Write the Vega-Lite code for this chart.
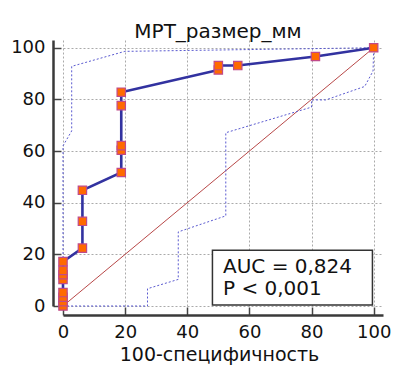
{
  "$schema": "https://vega.github.io/schema/vega-lite/v6.json",
  "width": 320,
  "height": 266,
  "autosize": "none",
  "padding": {"left": 63, "top": 40, "right": 10, "bottom": 61},
  "background": "white",
  "config": {
    "font": "DejaVu Sans",
    "view": {"stroke": null},
    "axis": {"labelFont": "DejaVu Sans", "titleFont": "DejaVu Sans"}
  },
  "title": {
    "text": "МРТ_размер_мм",
    "font": "DejaVu Sans",
    "fontSize": 20,
    "fontWeight": "normal",
    "color": "#111",
    "anchor": "middle",
    "baseline": "alphabetic",
    "offset": 10,
    "dx": -5,
    "dy": 29
  },
  "datasets": {
    "roc": [
      {"x": 0, "y": 0}, {"x": 0, "y": 1.7}, {"x": 0, "y": 3.4}, {"x": 0, "y": 5.2},
      {"x": 0, "y": 10.3}, {"x": 0, "y": 12.1}, {"x": 0, "y": 13.8}, {"x": 0, "y": 17.2},
      {"x": 6.25, "y": 22.4}, {"x": 6.25, "y": 32.8}, {"x": 6.25, "y": 44.8},
      {"x": 18.75, "y": 51.7}, {"x": 18.75, "y": 60.3}, {"x": 18.75, "y": 62.1},
      {"x": 18.75, "y": 77.6}, {"x": 18.75, "y": 82.8},
      {"x": 50, "y": 91.4}, {"x": 50, "y": 93.1}, {"x": 56.25, "y": 93.1},
      {"x": 81.25, "y": 96.6}, {"x": 100, "y": 100}
    ],
    "upper": [
      {"x": 0, "y": 0}, {"x": 0, "y": 62}, {"x": 2.8, "y": 67.8}, {"x": 2.8, "y": 92.8},
      {"x": 19.9, "y": 98.6}, {"x": 100, "y": 100}
    ],
    "lower": [
      {"x": 0, "y": 0}, {"x": 27.2, "y": 0}, {"x": 27.2, "y": 6.7}, {"x": 37.1, "y": 10.3},
      {"x": 37.1, "y": 28.7}, {"x": 52.4, "y": 34.9}, {"x": 52.4, "y": 67.1},
      {"x": 80, "y": 77}, {"x": 80, "y": 79.8}, {"x": 84.6, "y": 79.8},
      {"x": 97.1, "y": 85}, {"x": 99.8, "y": 91}, {"x": 100, "y": 100}
    ],
    "diag": [{"x": 0, "y": 0}, {"x": 100, "y": 100}],
    "box": [{"label": "AUC"}]
  },
  "layer": [
    {
      "data": {"name": "diag"},
      "mark": {"type": "line", "color": "#b84848", "strokeWidth": 1},
      "encoding": {
        "x": {
          "field": "x", "type": "quantitative",
          "scale": {"domain": [0, 103], "nice": false, "zero": false},
          "axis": {
            "values": [0,5,10,15,20,25,30,35,40,45,50,55,60,65,70,75,80,85,90,95,100],
            "labelExpr": "datum.value % 20 == 0 ? datum.label : ''",
            "labelOverlap": false,
            "labelFontSize": 18,
            "labelColor": "#111",
            "labelPadding": 16,
            "labelFlush": false,
            "offset": 9,
            "domainColor": "#3a3a3a",
            "domainWidth": 2.5,
            "tickColor": "#444",
            "tickWidth": 1.5,
            "tickSize": {"condition": {"test": "datum.value % 20 == 0", "value": -8}, "value": -5},
            "grid": true,
            "gridColor": "#aaaaaa",
            "gridDash": [2, 2],
            "gridWidth": 1,
            "gridOpacity": {"condition": {"test": "datum.value % 20 == 0", "value": 1}, "value": 0},
            "title": "100-специфичность",
            "titleFontSize": 19,
            "titleFontWeight": "normal",
            "titleColor": "#111",
            "titleX": 156,
            "titleY": 45,
            "titleBaseline": "alphabetic"
          }
        },
        "y": {
          "field": "y", "type": "quantitative",
          "scale": {"domain": [0, 103], "nice": false, "zero": false},
          "axis": {
            "values": [0,5,10,15,20,25,30,35,40,45,50,55,60,65,70,75,80,85,90,95,100],
            "labelExpr": "datum.value % 20 == 0 ? datum.label : ''",
            "labelOverlap": false,
            "labelFontSize": 18,
            "labelColor": "#111",
            "labelPadding": 16,
            "labelFlush": false,
            "offset": 10,
            "domainColor": "#3a3a3a",
            "domainWidth": 2.5,
            "tickColor": "#444",
            "tickWidth": 1.5,
            "tickSize": {"condition": {"test": "datum.value % 20 == 0", "value": -8}, "value": -5},
            "grid": true,
            "gridColor": "#aaaaaa",
            "gridDash": [2, 2],
            "gridWidth": 1,
            "gridOpacity": {"condition": {"test": "datum.value % 20 == 0", "value": 1}, "value": 0},
            "title": null
          }
        }
      }
    },
    {
      "data": {"name": "upper"},
      "mark": {"type": "line", "color": "#5a5ad0", "strokeWidth": 1, "strokeDash": [2, 2]},
      "encoding": {
        "x": {"field": "x", "type": "quantitative"},
        "y": {"field": "y", "type": "quantitative"},
        "order": {"value": 0}
      }
    },
    {
      "data": {"name": "lower"},
      "mark": {"type": "line", "color": "#5a5ad0", "strokeWidth": 1, "strokeDash": [2, 2]},
      "encoding": {
        "x": {"field": "x", "type": "quantitative"},
        "y": {"field": "y", "type": "quantitative"},
        "order": {"value": 0}
      }
    },
    {
      "data": {"name": "roc"},
      "mark": {"type": "line", "color": "#3232a0", "strokeWidth": 2.6},
      "encoding": {
        "x": {"field": "x", "type": "quantitative"},
        "y": {"field": "y", "type": "quantitative"},
        "order": {"value": 0}
      }
    },
    {
      "data": {"name": "roc"},
      "mark": {"type": "point", "shape": "square", "filled": true, "size": 70, "color": "#ff6a00", "stroke": "#c04a8a", "strokeWidth": 1.2, "opacity": 1},
      "encoding": {
        "x": {"field": "x", "type": "quantitative"},
        "y": {"field": "y", "type": "quantitative"}
      }
    },
    {
      "data": {"name": "box"},
      "mark": {"type": "rect", "fill": "white", "stroke": "#333", "strokeWidth": 1.5},
      "encoding": {
        "x": {"datum": 48.1, "type": "quantitative"},
        "x2": {"datum": 99.6},
        "y": {"datum": 0.4, "type": "quantitative"},
        "y2": {"datum": 21.6}
      }
    },
    {
      "data": {"name": "box"},
      "mark": {"type": "text", "text": ["AUC = 0,824", "P < 0,001"], "align": "left", "baseline": "alphabetic", "fontSize": 20, "lineHeight": 22, "color": "#111", "font": "DejaVu Sans"},
      "encoding": {
        "x": {"datum": 51.5, "type": "quantitative"},
        "y": {"datum": 12.7, "type": "quantitative"}
      }
    }
  ]
}
